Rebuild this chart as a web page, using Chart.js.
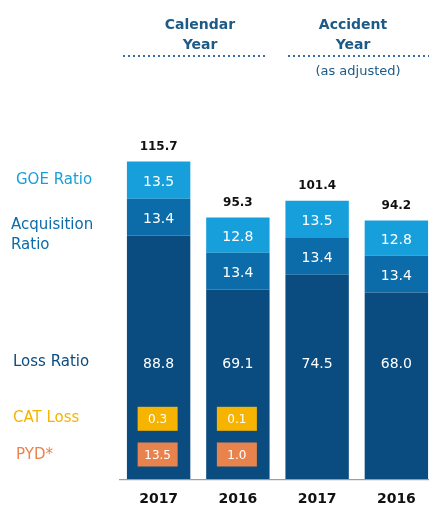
<!DOCTYPE html>
<html>
<head>
<meta charset="utf-8">
<script src="https://cdn.jsdelivr.net/npm/chart.js@4/dist/chart.umd.min.js"></script>
<style>
  html, body { margin: 0; padding: 0; background: #fff; }
  #wrap { width: 429px; height: 510px; position: relative; overflow: hidden; }
</style>
</head>
<body>
<div id="wrap"><canvas id="c" width="436" height="510"></canvas></div>
<script>
// data
const years = ['2017', '2016', '2017', '2016'];
const lossRatio = [88.8, 69.1, 74.5, 68.0];
const acqRatio = [13.4, 13.4, 13.4, 13.4];
const goeRatio = [13.5, 12.8, 13.5, 12.8];
const totals = [115.7, 95.3, 101.4, 94.2];
const catLoss = [0.3, 0.1, null, null];
const pydVals = [13.5, 1.0, null, null];

const C_GOE = '#179fdc';
const C_ACQ = '#0b6ca9';
const C_LOSS = '#0a4c80';
const C_CAT = '#f6b400';
const C_PYD = '#e9834d';

const FONT = 'DejaVu Sans, Verdana, sans-serif';

// labels inside bars, totals, boxes, side texts and headers
const decor = {
  id: 'decor',
  afterDatasetsDraw(chart) {
    const ctx = chart.ctx;
    const y = chart.scales.y;
    ctx.save();
    ctx.textAlign = 'center';
    ctx.textBaseline = 'middle';

    // segment values
    chart.data.datasets.forEach((ds, di) => {
      const meta = chart.getDatasetMeta(di);
      meta.data.forEach((bar, i) => {
        let cy = (bar.y + bar.base) / 2 + 2;
        if (di === 0) cy = y.getPixelForValue(42);
        ctx.fillStyle = '#ffffff';
        ctx.font = '14px ' + FONT;
        ctx.fillText(ds.data[i].toFixed(1), bar.x, cy);
      });
    });

    // totals
    const top = chart.getDatasetMeta(2);
    top.data.forEach((bar, i) => {
      ctx.fillStyle = '#111';
      ctx.font = 'bold 12px ' + FONT;
      ctx.fillText(totals[i].toFixed(1), bar.x, bar.y - 15);
    });

    // CAT / PYD boxes
    const loss = chart.getDatasetMeta(0);
    const boxes = [[catLoss, C_CAT, 22], [pydVals, C_PYD, 9]];
    boxes.forEach(([vals, col, pos]) => {
      loss.data.forEach((bar, i) => {
        if (vals[i] == null) return;
        const cy = y.getPixelForValue(pos);
        ctx.fillStyle = col;
        ctx.fillRect(bar.x - 21, cy - 12, 40, 24);
        ctx.fillStyle = '#fff';
        ctx.font = '12px ' + FONT;
        ctx.fillText(vals[i].toFixed(1), bar.x - 1, cy + 1);
      });
    });

    // side labels
    ctx.textAlign = 'left';
    ctx.font = '15px ' + FONT;
    ctx.fillStyle = C_GOE;
    ctx.fillText('GOE Ratio', 16, 180);
    ctx.fillStyle = C_ACQ;
    ctx.fillText('Acquisition', 11, 225);
    ctx.fillText('Ratio', 11, 245);
    ctx.fillStyle = C_LOSS;
    ctx.fillText('Loss Ratio', 13, 362);
    ctx.fillStyle = C_CAT;
    ctx.fillText('CAT Loss', 13, 418);
    ctx.fillStyle = C_PYD;
    ctx.fillText('PYD*', 16, 455);

    // headers
    ctx.textAlign = 'center';
    ctx.fillStyle = '#1d5a86';
    ctx.font = 'bold 14px ' + FONT;
    ctx.fillText('Calendar', 200, 25);
    ctx.fillText('Year', 200, 45);
    ctx.fillText('Accident', 353, 25);
    ctx.fillText('Year', 353, 45);
    ctx.font = '13px ' + FONT;
    ctx.fillText('(as adjusted)', 358, 72);

    ctx.strokeStyle = '#3a6ea5';
    ctx.lineWidth = 2;
    ctx.setLineDash([2, 3]);
    ctx.beginPath();
    ctx.moveTo(123, 56); ctx.lineTo(267, 56);
    ctx.moveTo(288, 56); ctx.lineTo(429, 56);
    ctx.stroke();
    ctx.setLineDash([]);

    // baseline
    ctx.strokeStyle = '#888';
    ctx.lineWidth = 1;
    ctx.beginPath();
    ctx.moveTo(chart.chartArea.left, y.getPixelForValue(0) + 0.5);
    ctx.lineTo(chart.chartArea.right, y.getPixelForValue(0) + 0.5);
    ctx.stroke();
    ctx.restore();
  }
};

new Chart(document.getElementById('c'), {
  type: 'bar',
  data: {
    labels: years,
    datasets: [
      { label: 'Loss Ratio', data: lossRatio, backgroundColor: C_LOSS },
      { label: 'Acquisition Ratio', data: acqRatio, backgroundColor: C_ACQ },
      { label: 'GOE Ratio', data: goeRatio, backgroundColor: C_GOE }
    ]
  },
  options: {
    responsive: false,
    animation: false,
    layout: { padding: { left: 119, right: 0, top: 40, bottom: -10 } },
    plugins: { legend: { display: false }, tooltip: { enabled: false } },
    datasets: { bar: { categoryPercentage: 1, barPercentage: 0.8 } },
    scales: {
      x: {
        stacked: true,
        grid: { display: false, drawTicks: false },
        border: { display: false },
        ticks: { color: '#111', font: { family: FONT, size: 14, weight: 'bold' }, padding: 12 }
      },
      y: {
        stacked: true,
        display: false,
        min: 0,
        max: 160
      }
    }
  },
  plugins: [decor]
});
</script>
</body>
</html>
